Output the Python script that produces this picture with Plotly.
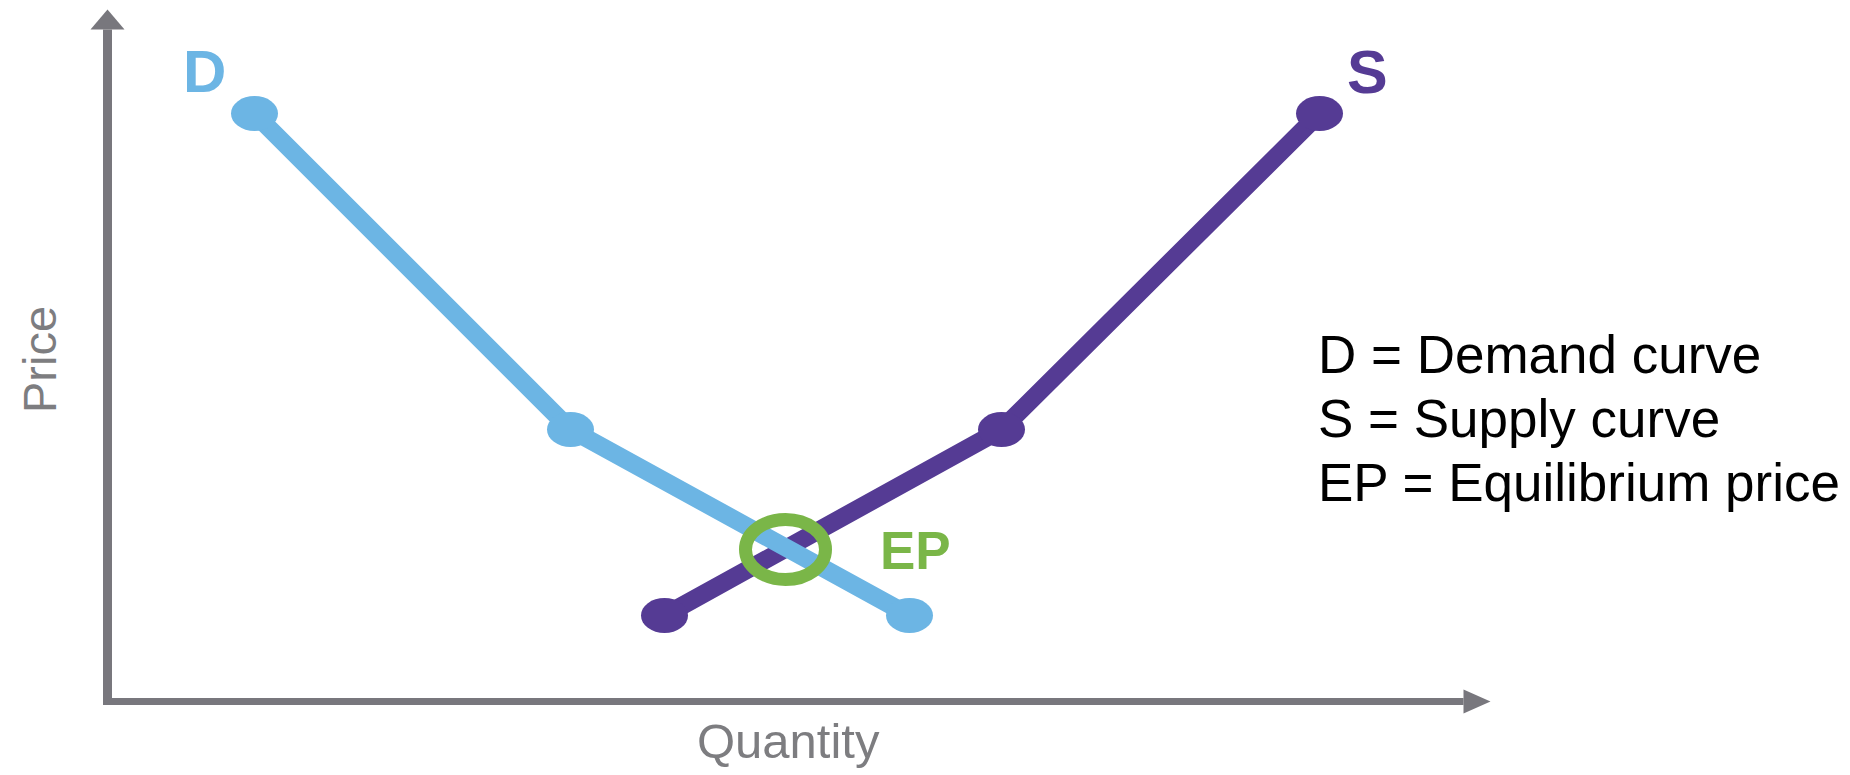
import plotly.graph_objects as go

# ---- data (quantity / price units) ----
demand_q = [1.47, 4.63, 8.02]
demand_p = [5.88, 2.72, 0.86]
supply_q = [5.57, 8.94, 12.12]
supply_p = [0.86, 2.72, 5.88]
ep_q = [6.78]
ep_p = [1.52]
legend_lines = ["D = Demand curve", "S = Supply curve", "EP = Equilibrium price"]

BLUE = "#6cb5e4"
PURPLE = "#553b94"
GREEN = "#7ab648"
GRAY = "#78777d"

W, H = 1850, 775
X0_PX, Y0_PX, UNIT = 107.5, 701.5, 100.0
x_range = [-X0_PX / UNIT, (W - X0_PX) / UNIT]
y_range = [-(H - Y0_PX) / UNIT, Y0_PX / UNIT]
x_axis_end = 13.56
y_axis_end = 6.72

fig = go.Figure()
fig.add_trace(go.Scatter(x=supply_q, y=supply_p, mode="lines",
                         line=dict(color=PURPLE, width=18), hoverinfo="skip"))
fig.add_trace(go.Scatter(x=demand_q, y=demand_p, mode="lines",
                         line=dict(color=BLUE, width=18), hoverinfo="skip"))

shapes = []
# axes
shapes.append(dict(type="line", xref="x", yref="y", x0=0, y0=-0.035, x1=0, y1=y_axis_end,
                   line=dict(color=GRAY, width=9), layer="below"))
shapes.append(dict(type="line", xref="x", yref="y", x0=-0.045, y0=0, x1=x_axis_end, y1=0,
                   line=dict(color=GRAY, width=7), layer="below"))
# arrowheads
shapes.append(dict(type="path", xref="x", yref="y", xsizemode="pixel", ysizemode="pixel",
                   xanchor=0, yanchor=y_axis_end, path="M -17 0 L 17 0 L 0 20 Z",
                   fillcolor=GRAY, line=dict(width=0), layer="below"))
shapes.append(dict(type="path", xref="x", yref="y", xsizemode="pixel", ysizemode="pixel",
                   xanchor=x_axis_end, yanchor=0, path="M 0 -12 L 0 12 L 27 0 Z",
                   fillcolor=GRAY, line=dict(width=0), layer="below"))
# markers (ellipses)
for qs, ps, c in [(supply_q, supply_p, PURPLE), (demand_q, demand_p, BLUE)]:
    for q, p in zip(qs, ps):
        shapes.append(dict(type="circle", xref="x", yref="y", xsizemode="pixel", ysizemode="pixel",
                           xanchor=q, yanchor=p, x0=-23.5, x1=23.5, y0=-17.5, y1=17.5,
                           fillcolor=c, line=dict(width=0), layer="above"))
# equilibrium ring
for q, p in zip(ep_q, ep_p):
    shapes.append(dict(type="circle", xref="x", yref="y", xsizemode="pixel", ysizemode="pixel",
                       xanchor=q, yanchor=p, x0=-40, x1=40, y0=-30, y1=30,
                       fillcolor="rgba(0,0,0,0)", line=dict(color=GREEN, width=13), layer="above"))

annotations = [
    dict(text="<b>D</b>", x=0.965, y=6.3, xref="x", yref="y", showarrow=False,
         xanchor="center", yanchor="middle",
         font=dict(family="Liberation Sans", size=60, color=BLUE)),
    dict(text="<b>S</b>", x=12.595, y=6.3, xref="x", yref="y", showarrow=False,
         xanchor="center", yanchor="middle",
         font=dict(family="Liberation Sans", size=61, color=PURPLE)),
    dict(text="<b>EP</b>", x=7.7, y=ep_p[0] - 0.01, xref="x", yref="y", showarrow=False,
         xanchor="left", yanchor="middle",
         font=dict(family="Liberation Sans", size=53, color=GREEN)),
    dict(text="Price", x=39 / W, y=1 - 360 / H, xref="paper", yref="paper", showarrow=False,
         xanchor="center", yanchor="middle",
         textangle=-90, font=dict(family="Liberation Sans", size=47, color="#7d7d80")),
    dict(text="Quantity", x=788 / W, y=1 - 741 / H, xref="paper", yref="paper", showarrow=False,
         xanchor="center", yanchor="middle",
         font=dict(family="Liberation Sans", size=49, color="#7d7d80")),
]
for i, t in enumerate(legend_lines):
    annotations.append(dict(text=t, x=1316 / W, y=1 - (354 + 64.5 * i) / H, xref="paper", yref="paper",
                            showarrow=False, xanchor="left", yanchor="middle",
                            font=dict(family="Liberation Sans", size=53, color="black")))

fig.update_layout(
    width=W, height=H, autosize=False,
    margin=dict(l=0, r=0, t=0, b=0),
    paper_bgcolor="white", plot_bgcolor="white",
    showlegend=False,
    xaxis=dict(range=x_range, visible=False, fixedrange=True),
    yaxis=dict(range=y_range, visible=False, fixedrange=True),
    shapes=shapes, annotations=annotations,
)
fig.write_html("out.html", config={"displayModeBar": False})
